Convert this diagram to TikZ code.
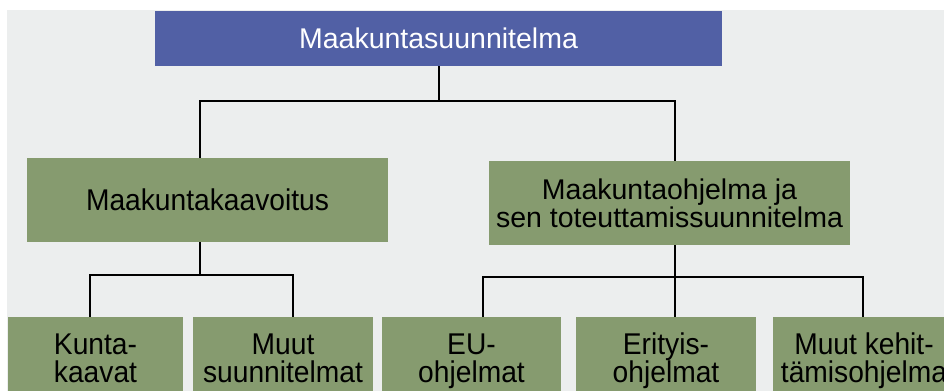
\documentclass[tikz,border=0pt]{standalone}
\usepackage{fontspec}
\setmainfont{Liberation Sans}
\newfontfamily\kapea[FakeStretch=0.94]{Liberation Sans}
\definecolor{sininen}{RGB}{81, 96, 165}
\definecolor{vihrea}{RGB}{134, 155, 111}
\definecolor{tausta}{RGB}{236, 238, 238}

\tikzset{
	laatikko/.style={fill=vihrea, inner sep=0pt, align=center, text depth=0pt},
	ylabox/.style={laatikko, fill=sininen, text=white, font=\fontsize{14.25}{14}\selectfont},
	keskibox/.style={laatikko, minimum width=180.5pt, minimum height=42pt},
	alabox/.style={laatikko, minimum height=41pt, font=\kapea\fontsize{15}{14}\selectfont},
	viiva/.style={line width=1pt}
}

\begin{document}
\begin{tikzpicture}[x=0.5pt, y=-0.5pt]
			\useasboundingbox (0,0) rectangle (944,391);
			\clip (0,0) rectangle (944,391);
			\fill[tausta] (7,10) rectangle (944,391);

			% ylin taso
			\node[ylabox, minimum width=283.5pt, minimum height=27.5pt] (ylin) at (438.5,38.5) {Maakuntasuunnitelma};

			% keskitaso
			\node[keskibox, font=\kapea\fontsize{15}{14}\selectfont] (kaavoitus) at (207.5,200) {Maakuntakaavoitus};
			\node[keskibox, font=\fontsize{14.25}{14}\selectfont] (ohjelma) at (669.5,203) {Maakuntaohjelma ja\\sen toteuttamissuunnitelma};

			% alataso
			\foreach \nimi/\x/\leveys/\teksti in {kunta/95.5/175/{Kunta-\\kaavat}, muut/283/180/{Muut\\suunnitelmat}, eu/471.5/179/{EU-\\ohjelmat}, erityis/666/180/{Erityis-\\ohjelmat}, kehit/864/182/{Muut kehit-\\tämisohjelma}} {
				\node[alabox, minimum width=\leveys*0.5pt] (\nimi) at (\x,358) {\teksti};
			}

			% viivat
			\draw[viiva] (ylin.south) -- ++(0,35) -| ([xshift=-3.75pt]kaavoitus.north);
			\draw[viiva] (ylin.south) -- ++(0,35) -| ([xshift=2.75pt]ohjelma.north);
			\draw[viiva] ([xshift=-3.75pt]kaavoitus.south) -- ++(0,33) -| ([xshift=-2.75pt]kunta.north);
			\draw[viiva] ([xshift=-3.75pt]kaavoitus.south) -- ++(0,33) -| ([xshift=5pt]muut.north);
			\draw[viiva] ([xshift=2.75pt]ohjelma.south) -- ++(0,32) -| ([xshift=5.75pt]eu.north);
			\draw[viiva] ([xshift=2.75pt]ohjelma.south) -- ++(0,32) -| ([xshift=4.5pt]erityis.north);
			\draw[viiva] ([xshift=2.75pt]ohjelma.south) -- ++(0,32) -| ([xshift=-0.5pt]kehit.north);
		\end{tikzpicture}
\end{document}
